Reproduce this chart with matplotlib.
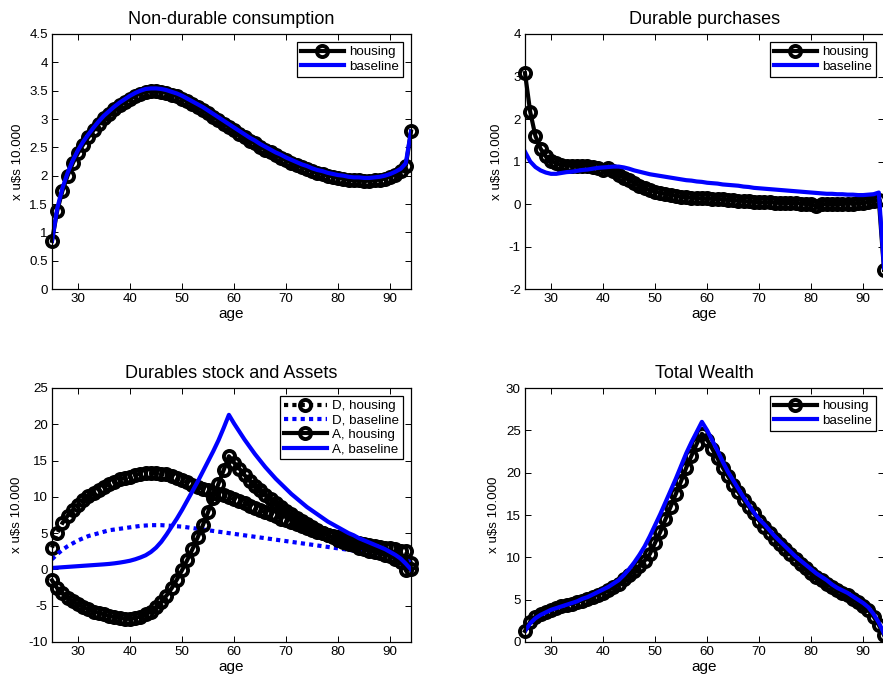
import matplotlib
matplotlib.use("Agg")
import matplotlib.pyplot as plt
import numpy as np

plt.rcParams['font.family'] = ['Liberation Sans', 'DejaVu Sans']

# ages of the life cycle
age = np.arange(25, 95)

# Non-durable consumption
cons_housing = [0.85, 1.38, 1.73, 2.00, 2.22, 2.40, 2.55, 2.68, 2.80, 2.91,
                3.01, 3.09, 3.17, 3.24, 3.30, 3.36, 3.41, 3.45, 3.48, 3.49,
                3.49, 3.48, 3.46, 3.43, 3.40, 3.36, 3.31, 3.26, 3.21, 3.16,
                3.10, 3.04, 2.98, 2.92, 2.86, 2.80, 2.74, 2.68, 2.62, 2.57,
                2.51, 2.46, 2.41, 2.36, 2.32, 2.27, 2.23, 2.19, 2.15, 2.12,
                2.08, 2.05, 2.03, 2.00, 1.98, 1.96, 1.95, 1.93, 1.92, 1.92,
                1.91, 1.91, 1.92, 1.93, 1.95, 1.98, 2.02, 2.08, 2.17, 2.78]
cons_base = [0.85, 1.42, 1.78, 2.05, 2.27, 2.45, 2.60, 2.73, 2.85, 2.96,
             3.06, 3.14, 3.22, 3.29, 3.35, 3.41, 3.46, 3.50, 3.53, 3.54,
             3.54, 3.53, 3.51, 3.48, 3.45, 3.41, 3.36, 3.31, 3.26, 3.21,
             3.15, 3.09, 3.03, 2.97, 2.91, 2.85, 2.79, 2.73, 2.67, 2.62,
             2.56, 2.51, 2.46, 2.41, 2.37, 2.32, 2.28, 2.24, 2.20, 2.17,
             2.13, 2.10, 2.08, 2.05, 2.03, 2.01, 2.00, 1.98, 1.97, 1.97,
             1.96, 1.96, 1.97, 1.98, 2.00, 2.03, 2.07, 2.12, 2.22, 2.78]

# Durable purchases
dpur_housing = [3.08, 2.17, 1.60, 1.30, 1.12, 1.02, 0.96, 0.92, 0.90, 0.90,
                0.90, 0.90, 0.90, 0.88, 0.84, 0.79, 0.84, 0.78, 0.68, 0.62,
                0.57, 0.49, 0.42, 0.37, 0.33, 0.29, 0.26, 0.23, 0.21, 0.19,
                0.17, 0.16, 0.15, 0.14, 0.13, 0.13, 0.12, 0.12, 0.11, 0.10,
                0.09, 0.08, 0.07, 0.06, 0.05, 0.04, 0.04, 0.04, 0.03, 0.03,
                0.03, 0.02, 0.02, 0.01, 0.01, 0.00, -0.05, -0.01, 0.00, 0.00,
                0.00, 0.00, 0.01, 0.01, 0.02, 0.02, 0.04, 0.06, 0.10, -1.55]
dpur_base = [1.23, 1.00, 0.87, 0.79, 0.74, 0.71, 0.71, 0.73, 0.75, 0.76,
             0.78, 0.80, 0.81, 0.83, 0.85, 0.86, 0.87, 0.88, 0.88, 0.86,
             0.83, 0.79, 0.76, 0.73, 0.70, 0.68, 0.66, 0.64, 0.62, 0.60,
             0.58, 0.56, 0.55, 0.53, 0.52, 0.50, 0.49, 0.48, 0.46, 0.45,
             0.44, 0.43, 0.41, 0.40, 0.38, 0.37, 0.36, 0.35, 0.34, 0.33,
             0.32, 0.31, 0.30, 0.29, 0.28, 0.27, 0.26, 0.25, 0.24, 0.24,
             0.23, 0.23, 0.22, 0.22, 0.21, 0.21, 0.22, 0.23, 0.27, -1.50]

# Durables stock (D) and Assets (A)
D_housing = [3.0, 5.0, 6.4, 7.4, 8.2, 8.9, 9.5, 10.1, 10.6, 11.0,
             11.4, 11.8, 12.1, 12.4, 12.6, 12.8, 13.0, 13.2, 13.3, 13.3,
             13.3, 13.2, 13.1, 12.9, 12.6, 12.3, 12.0, 11.7, 11.4, 11.1,
             10.9, 10.6, 10.4, 10.2, 10.0, 9.7, 9.4, 9.1, 8.8, 8.5,
             8.2, 7.9, 7.6, 7.3, 7.0, 6.8, 6.5, 6.3, 6.0, 5.7,
             5.5, 5.2, 5.0, 4.8, 4.6, 4.4, 4.2, 4.0, 3.8, 3.6,
             3.5, 3.35, 3.2, 3.1, 3.0, 2.9, 2.8, 2.6, 2.5, 0.9]
D_base = [1.4, 2.1, 2.7, 3.2, 3.6, 4.0, 4.3, 4.6, 4.8, 5.0,
          5.2, 5.4, 5.5, 5.6, 5.7, 5.8, 5.9, 6.0, 6.05, 6.1,
          6.1, 6.1, 6.05, 6.0, 5.95, 5.9, 5.8, 5.7, 5.6, 5.5,
          5.4, 5.3, 5.2, 5.1, 5.0, 4.9, 4.8, 4.7, 4.6, 4.5,
          4.4, 4.3, 4.2, 4.1, 4.0, 3.9, 3.8, 3.7, 3.6, 3.5,
          3.4, 3.3, 3.2, 3.1, 3.0, 2.9, 2.8, 2.7, 2.6, 2.5,
          2.4, 2.35, 2.3, 2.2, 2.1, 2.0, 1.9, 1.7, 1.4, 0.9]
A_housing = [-1.5, -2.6, -3.3, -3.9, -4.4, -4.8, -5.2, -5.5, -5.8, -6.0,
             -6.2, -6.4, -6.6, -6.7, -6.8, -6.8, -6.7, -6.5, -6.2, -5.8,
             -5.2, -4.5, -3.6, -2.6, -1.4, -0.1, 1.3, 2.8, 4.4, 6.1,
             7.9, 9.9, 11.8, 13.7, 15.6, 14.7, 13.9, 13.0, 12.2, 11.5,
             10.9, 10.3, 9.7, 9.1, 8.6, 8.1, 7.6, 7.1, 6.7, 6.2,
             5.8, 5.4, 5.0, 4.7, 4.4, 4.1, 3.8, 3.5, 3.3, 3.0,
             2.8, 2.6, 2.4, 2.2, 2.0, 1.8, 1.5, 1.0, -0.1, 0.0]
A_base = [0.2, 0.25, 0.3, 0.35, 0.4, 0.45, 0.5, 0.55, 0.6, 0.65,
          0.7, 0.76, 0.84, 0.94, 1.06, 1.2, 1.4, 1.65, 1.95, 2.4,
          3.0, 3.8, 4.8, 5.9, 7.0, 8.2, 9.5, 10.8, 12.1, 13.5,
          14.9, 16.3, 17.8, 19.5, 21.3, 20.1, 19.0, 17.9, 16.9, 15.9,
          15.0, 14.1, 13.3, 12.5, 11.8, 11.1, 10.4, 9.8, 9.2, 8.6,
          8.1, 7.6, 7.1, 6.6, 6.2, 5.8, 5.4, 5.0, 4.7, 4.3,
          4.0, 3.7, 3.4, 3.1, 2.8, 2.4, 2.0, 1.5, 0.8, 0.0]

# Total wealth
W_housing = [1.3, 2.4, 3.0, 3.3, 3.6, 3.8, 4.0, 4.2, 4.4, 4.5,
             4.7, 4.9, 5.1, 5.3, 5.6, 5.8, 6.1, 6.5, 6.9, 7.4,
             7.9, 8.4, 9.0, 9.6, 10.4, 11.7, 13.0, 14.5, 16.0, 17.5,
             19.0, 20.6, 22.0, 23.4, 24.6, 23.9, 22.8, 21.7, 20.6, 19.6,
             18.6, 17.7, 16.8, 16.0, 15.2, 14.3, 13.6, 12.9, 12.2, 11.6,
             11.0, 10.4, 9.8, 9.2, 8.7, 8.2, 7.7, 7.3, 6.9, 6.5,
             6.1, 5.8, 5.5, 5.1, 4.7, 4.3, 3.8, 3.0, 2.0, 0.8]
W_base = [1.3, 2.2, 2.8, 3.2, 3.5, 3.8, 4.0, 4.2, 4.4, 4.6,
          4.8, 5.1, 5.3, 5.6, 5.9, 6.2, 6.5, 6.9, 7.3, 7.9,
          8.6, 9.4, 10.3, 11.3, 12.5, 13.8, 15.1, 16.5, 17.9, 19.3,
          20.8, 22.3, 23.6, 24.8, 26.0, 25.0, 23.8, 22.6, 21.3, 20.1,
          19.1, 18.1, 17.1, 16.2, 15.3, 14.5, 13.9, 13.2, 12.5, 11.9,
          11.3, 10.7, 10.1, 9.6, 9.1, 8.6, 8.1, 7.7, 7.3, 6.8,
          6.4, 6.1, 5.8, 5.4, 5.0, 4.6, 4.1, 3.3, 2.3, 1.0]

W, H = 883, 679
fig = plt.figure(figsize=(W / 100, H / 100), dpi=100)

def box(l, t, r, b):
    return [l / W, 1 - b / H, (r - l) / W, (b - t) / H]

ax1 = fig.add_axes(box(52, 34, 411, 289))
ax2 = fig.add_axes(box(525, 34, 884, 289))
ax3 = fig.add_axes(box(52, 388, 411, 642))
ax4 = fig.add_axes(box(525, 388, 884, 642))

lw = 3.0
hstyle = dict(color='black', lw=lw, marker='o', ms=8, mfc='none',
              mew=2.8, clip_on=False)
bstyle = dict(color='blue', lw=lw)


def style(ax, title, yticks):
    ax.set_xlim(25, 94)
    ax.set_ylim(yticks[0], yticks[-1])
    ax.set_xticks([30, 40, 50, 60, 70, 80, 90])
    ax.set_yticks(yticks)
    ax.set_yticklabels(['{:g}'.format(v) for v in yticks])
    ax.tick_params(direction='in', top=True, right=True, length=4,
                   width=0.7, labelsize=9.6, pad=3)
    for s in ax.spines.values():
        s.set_linewidth(0.9)
    ax.set_title(title, fontsize=13, pad=7)
    ax.set_xlabel('age', fontsize=11, labelpad=1)
    ax.set_ylabel('x u$s 10.000', fontsize=9.6, labelpad=4)


def legend(ax):
    leg = ax.legend(loc='upper right', fontsize=9.6, fancybox=False,
                    framealpha=1, edgecolor='black', handlelength=3.2,
                    handletextpad=0.4, borderpad=0.3, labelspacing=0.15,
                    borderaxespad=0.6)
    leg.get_frame().set_linewidth(0.9)


ax1.plot(age, cons_housing, label='housing', **hstyle)
ax1.plot(age, cons_base, label='baseline', **bstyle)
style(ax1, 'Non-durable consumption', np.arange(0, 4.51, 0.5))
legend(ax1)

ax2.plot(age, dpur_housing, label='housing', **hstyle)
ax2.plot(age, dpur_base, label='baseline', **bstyle)
style(ax2, 'Durable purchases', np.arange(-2, 4.1, 1))
legend(ax2)

ax3.plot(age, D_housing, ls=(0, (1, 1)), label='D, housing', **hstyle)
ax3.plot(age, D_base, ls=(0, (1, 1)), label='D, baseline', **bstyle)
ax3.plot(age, A_housing, label='A, housing', **hstyle)
ax3.plot(age, A_base, label='A, baseline', **bstyle)
style(ax3, 'Durables stock and Assets', np.arange(-10, 26, 5))
legend(ax3)

ax4.plot(age, W_housing, label='housing', **hstyle)
ax4.plot(age, W_base, label='baseline', **bstyle)
style(ax4, 'Total Wealth', np.arange(0, 31, 5))
legend(ax4)

fig.savefig('out.png', dpi=100)
